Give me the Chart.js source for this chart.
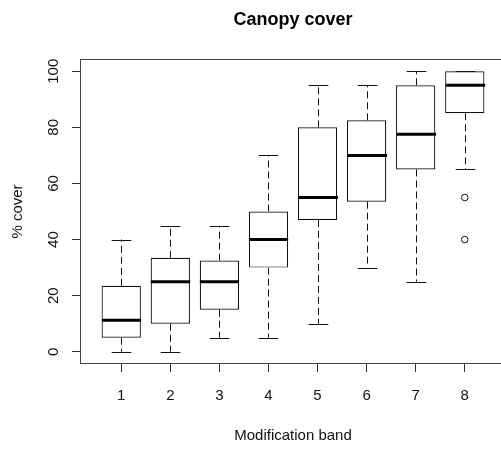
<!DOCTYPE html>
<html>
<head>
<meta charset="utf-8">
<script src="https://cdn.jsdelivr.net/npm/chart.js@4"></script>
<style>
  html, body { margin: 0; padding: 0; background: #fff; overflow: hidden; }
</style>
</head>
<body>
<canvas id="c" width="510" height="450"></canvas>
<script>
// box plot summary per modification band
const bands = [1, 2, 3, 4, 5, 6, 7, 8]
const lowWhisker = [0, 0, 5, 5, 10, 30, 25, 65]
const q1 = [5, 10, 15, 30, 47, 53.5, 65, 85]
const medians = [11.25, 25, 25, 40, 55, 70, 77.5, 95]
const q3 = [23.5, 33.5, 32.5, 50, 80, 82.5, 95, 100]
const highWhisker = [40, 45, 45, 70, 95, 95, 100, 100]
const outliers = [[], [], [], [], [], [], [], [55, 40]]
const yTicks = [0, 20, 40, 60, 80, 100]

Chart.defaults.font.family = "'Liberation Sans', Arial, sans-serif"
Chart.defaults.color = '#111'

/*
  whiskers, caps and medians drawn on top of the floating bars
*/
const whiskerPlugin = {
  id: 'whiskers',
  afterDatasetsDraw (chart) {
    const { ctx, scales: { x, y } } = chart
    ctx.save()
    bands.forEach((b, i) => {
      const cx = Math.round(x.getPixelForValue(b)) + 0.5
      const halfBox = x.getPixelForValue(b + 0.4) - x.getPixelForValue(b)
      const halfCap = x.getPixelForValue(b + 0.2) - x.getPixelForValue(b)
      // dashed whiskers
      ctx.strokeStyle = '#111'
      ctx.lineWidth = 1
      ctx.setLineDash([7, 4])
      ctx.beginPath()
      ctx.moveTo(cx, y.getPixelForValue(q3[i]))
      ctx.lineTo(cx, y.getPixelForValue(highWhisker[i]))
      ctx.moveTo(cx, y.getPixelForValue(q1[i]))
      ctx.lineTo(cx, y.getPixelForValue(lowWhisker[i]))
      ctx.stroke()
      // caps
      ctx.setLineDash([])
      ctx.beginPath()
      const yh = Math.round(y.getPixelForValue(highWhisker[i])) + 0.5
      const yl = Math.round(y.getPixelForValue(lowWhisker[i])) + 0.5
      ctx.moveTo(cx - halfCap, yh)
      ctx.lineTo(cx + halfCap, yh)
      ctx.moveTo(cx - halfCap, yl)
      ctx.lineTo(cx + halfCap, yl)
      ctx.stroke()
      // median
      ctx.strokeStyle = '#000'
      ctx.lineWidth = 3
      ctx.beginPath()
      const ym = y.getPixelForValue(medians[i])
      ctx.moveTo(cx - halfBox, ym)
      ctx.lineTo(cx + halfBox, ym)
      ctx.stroke()
    })
    ctx.restore()
  },
  afterDraw (chart) {
    const { ctx, chartArea: a } = chart
    ctx.save()
    ctx.strokeStyle = '#444'
    ctx.lineWidth = 1
    ctx.strokeRect(Math.round(a.left) - 0.5, Math.round(a.top) - 0.5, Math.round(a.right - a.left) + 1, Math.round(a.bottom - a.top) + 1)
    ctx.restore()
  }
}

const ctx = document.getElementById('c').getContext('2d')
const chart = new Chart(ctx, {
  type: 'bar',
  data: {
    datasets: [{
      type: 'bar',
      data: bands.map((b, i) => ({ x: b, y: [q1[i], q3[i]] })),
      backgroundColor: '#fff',
      borderColor: '#111',
      borderWidth: 1.2,
      borderSkipped: false,
      barPercentage: 0.8,
      categoryPercentage: 1
    }, {
      type: 'scatter',
      data: bands.flatMap((b, i) => outliers[i].map(v => ({ x: b, y: v }))),
      pointStyle: 'circle',
      pointRadius: 3.3,
      backgroundColor: '#fff',
      borderColor: '#111',
      borderWidth: 1
    }]
  },
  options: {
    responsive: false,
    animation: false,
    devicePixelRatio: 1,
    layout: { padding: { right: 4 } },
    plugins: {
      legend: { display: false },
      tooltip: { enabled: false }
    },
    scales: {
      x: {
        type: 'linear',
        offset: false,
        min: 0.5 - 0.04 * bands.length,
        max: bands.length + 0.5 + 0.04 * bands.length,
        afterBuildTicks: (s) => { s.ticks = bands.map(v => ({ value: v })) },
        afterFit: (s) => { s.height = 87 },
        grid: { offset: false, drawOnChartArea: false, tickLength: 9, color: '#333' },
        border: { display: false },
        ticks: { font: { size: 15 }, padding: 15 },
        title: { display: true, text: 'Modification band', font: { size: 15 }, padding: { bottom: 5 } }
      },
      // top axis only carries the main title, centred over the plot like R does
      top: {
        type: 'linear',
        position: 'top',
        min: 0.5 - 0.04 * bands.length,
        max: bands.length + 0.5 + 0.04 * bands.length,
        afterFit: (s) => { s.height = 60 },
        grid: { display: false },
        border: { display: false },
        ticks: { display: false },
        title: { display: true, text: 'Canopy cover', color: '#000', font: { size: 18, weight: 'bold' }, padding: { top: 9 } }
      },
      y: {
        min: -4,
        max: 104,
        afterBuildTicks: (s) => { s.ticks = yTicks.map(v => ({ value: v })) },
        afterFit: (s) => { s.width = 81 },
        grid: { drawOnChartArea: false, tickLength: 9, color: '#333' },
        border: { display: false },
        ticks: { font: { size: 15 }, padding: 6, minRotation: 90, maxRotation: 90, crossAlign: 'center' },
        title: { display: true, text: '% cover', font: { size: 15 }, padding: { top: 9 } }
      }
    }
  },
  plugins: [whiskerPlugin]
})
</script>
</body>
</html>
